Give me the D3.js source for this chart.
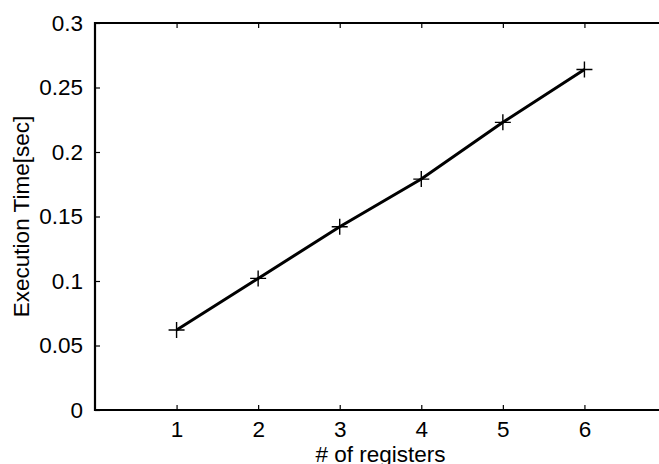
<!DOCTYPE html>
<html>
<head>
<meta charset="utf-8">
<script src="https://cdn.jsdelivr.net/npm/d3@7"></script>
<style>
  html, body { margin: 0; padding: 0; background: #fff; }
  svg { display: block; }
  text { font-family: "Liberation Sans", Arial, Helvetica, sans-serif; fill: #000; }
</style>
</head>
<body>
<svg id="chart" width="659" height="464"></svg>
<script>
const registers = [1, 2, 3, 4, 5, 6];
const execTime = [0.062, 0.102, 0.142, 0.179, 0.223, 0.264];
const xTicks = [1, 2, 3, 4, 5, 6];
const yTicks = [0, 0.05, 0.1, 0.15, 0.2, 0.25, 0.3];

const width = 659;
const height = 464;
const margin = { left: 95, top: 23, bottom: 54 };
const fontSize = 22.5;

const svg = d3.select('#chart');

const x = d3.scaleLinear().domain([0, 7]).range([margin.left, 666]);
const y = d3.scaleLinear().domain([0, 0.3]).range([height - margin.bottom, margin.top]);

const tickLen = 5;

// bottom axis, ticks pointing in
const xAxis = svg.append('g')
  .attr('transform', `translate(0,${y(0)})`)
  .call(d3.axisBottom(x).tickValues(xTicks).tickSize(-tickLen).tickPadding(11).tickFormat(d3.format('d')));

// top axis, ticks only
const xTop = svg.append('g')
  .attr('transform', `translate(0,${y(0.3)})`)
  .call(d3.axisTop(x).tickValues(xTicks).tickSize(-tickLen).tickFormat(''));

// left axis
const yAxis = svg.append('g')
  .attr('transform', `translate(${x(0)},0)`)
  .call(d3.axisLeft(y).tickValues(yTicks).tickSize(-tickLen).tickPadding(12).tickFormat(d => String(d)));

[xAxis, xTop, yAxis].forEach(g => {
  g.select('.domain').remove();
  g.selectAll('.tick line').attr('stroke', '#000').attr('stroke-width', 1.2);
  g.selectAll('text').style('font-size', fontSize + 'px').attr('fill', '#000');
});
xAxis.selectAll('text').attr('dy', '0.71em');

// box lines (right edge falls outside the window)
svg.append('path')
  .attr('d', `M${x(7)},${y(0.3)}H${x(0)}V${y(0)}H${x(7)}`)
  .attr('fill', 'none')
  .attr('stroke', '#000')
  .attr('stroke-width', 2.2);

const data = registers.map((r, i) => ({ x: r, y: execTime[i] }));

svg.append('path')
  .datum(data)
  .attr('d', d3.line().x(d => x(d.x)).y(d => y(d.y)))
  .attr('fill', 'none')
  .attr('stroke', '#000')
  .attr('stroke-width', 3);

const m = 8;
svg.append('g')
  .selectAll('path')
  .data(data)
  .enter()
  .append('path')
  .attr('d', d => `M${x(d.x) - m},${y(d.y)}H${x(d.x) + m}M${x(d.x)},${y(d.y) - m}V${y(d.y) + m}`)
  .attr('stroke', '#000')
  .attr('stroke-width', 1.4);

// axis labels (bottom label is cut by the window edge, as in the original)
svg.append('text')
  .attr('x', (x(0) + x(7)) / 2)
  .attr('y', 462)
  .attr('text-anchor', 'middle')
  .style('font-size', fontSize + 'px')
  .text('# of registers');

svg.append('text')
  .attr('transform', `translate(29,${(y(0) + y(0.3)) / 2}) rotate(-90)`)
  .attr('text-anchor', 'middle')
  .style('font-size', fontSize + 'px')
  .text('Execution Time[sec]');
</script>
</body>
</html>
